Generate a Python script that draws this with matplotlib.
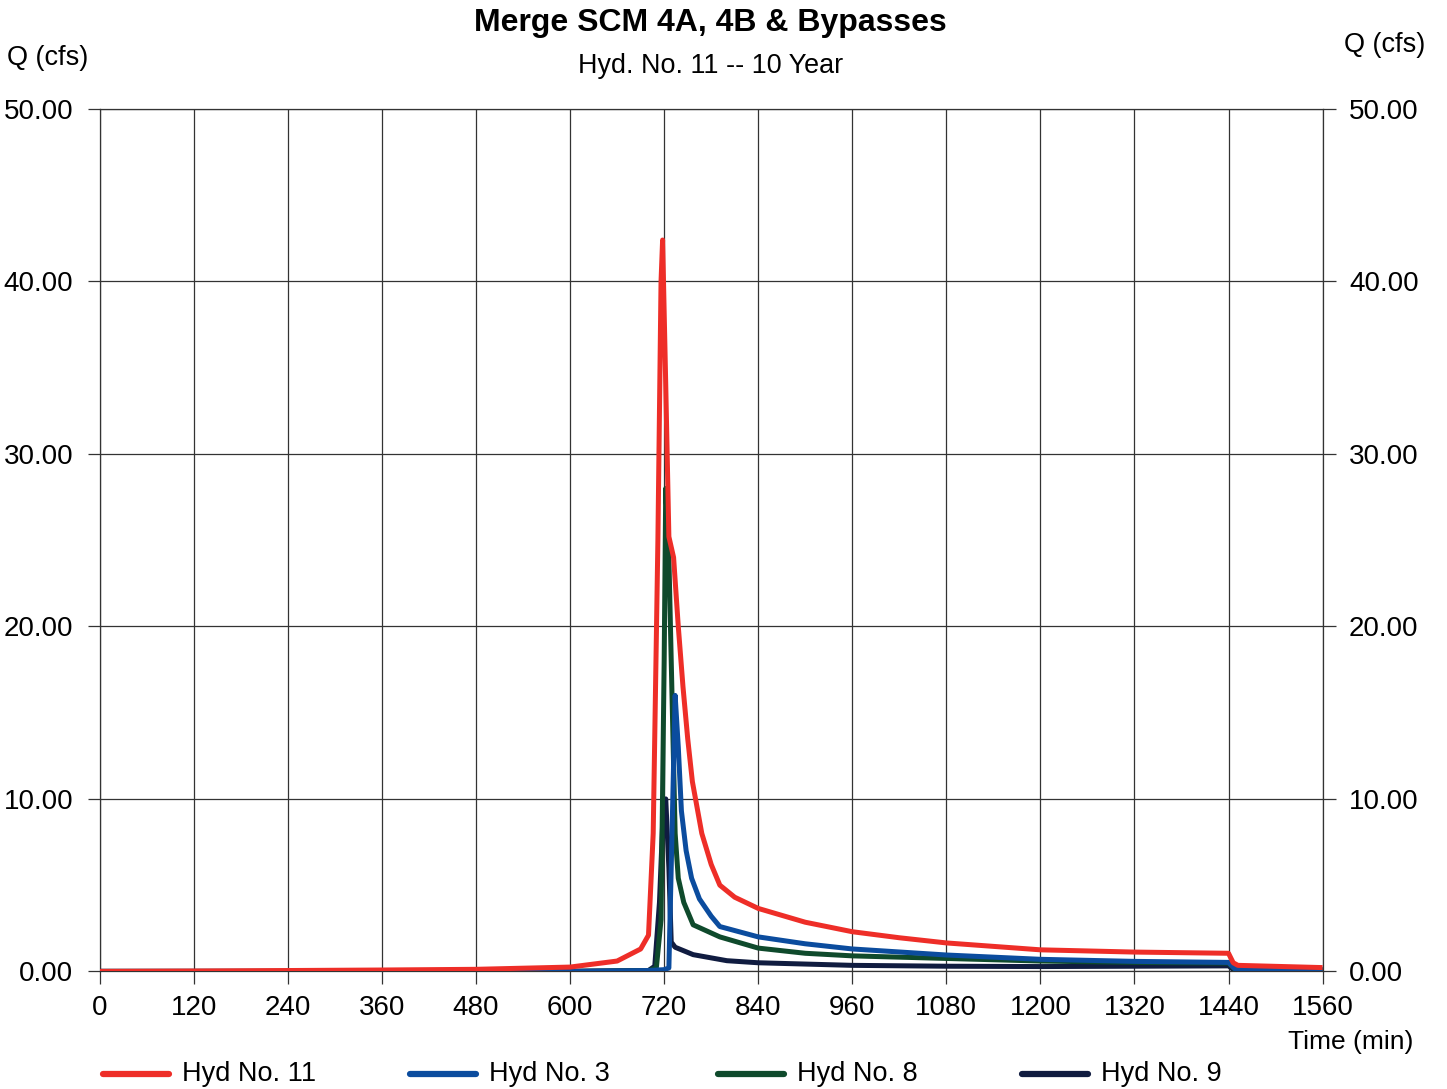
import matplotlib
matplotlib.use("Agg")
import matplotlib.pyplot as plt
from matplotlib.lines import Line2D

plt.rcParams['font.family'] = ['Liberation Sans', 'DejaVu Sans']

# ---- data ----
t11 = [0, 120, 240, 360, 480, 600, 660, 690, 700, 706, 712, 716, 718, 722, 726, 732,
       738, 744, 750, 756, 768, 780, 791, 810, 840, 900, 960, 1020, 1080, 1200, 1320,
       1440, 1446, 1452, 1560]
q11 = [0.0, 0.02, 0.05, 0.08, 0.12, 0.25, 0.6, 1.3, 2.1, 8.0, 25.0, 40.0, 42.4, 34.0,
       25.2, 24.0, 20.0, 16.5, 13.5, 11.0, 8.0, 6.2, 5.0, 4.3, 3.65, 2.85, 2.3, 1.95, 1.65,
       1.25, 1.12, 1.05, 0.5, 0.35, 0.22]

t3 = [0, 600, 700, 720, 726, 730, 734, 738, 742, 748, 755, 765, 780, 791, 840, 900,
      960, 1080, 1200, 1320, 1440, 1448, 1560]
q3 = [0.0, 0.0, 0.05, 0.1, 0.2, 8.0, 16.0, 13.0, 9.3, 7.0, 5.4, 4.2, 3.2, 2.6, 2.0, 1.6,
      1.3, 0.95, 0.7, 0.58, 0.52, 0.15, 0.12]

t8 = [0, 600, 700, 710, 716, 720, 722, 726, 730, 734, 738, 745, 757, 791, 840, 900,
      960, 1080, 1200, 1320, 1440, 1448, 1560]
q8 = [0.0, 0.0, 0.05, 0.2, 3.0, 18.0, 28.0, 24.0, 16.0, 8.0, 5.4, 4.0, 2.7, 2.0, 1.35,
      1.05, 0.9, 0.75, 0.6, 0.52, 0.48, 0.12, 0.1]

t9 = [0, 600, 700, 708, 714, 718, 722, 726, 729, 734, 757, 800, 840, 960, 1080,
      1200, 1320, 1440, 1448, 1560]
q9 = [0.0, 0.0, 0.05, 0.3, 4.0, 8.5, 10.0, 6.0, 1.7, 1.4, 0.97, 0.62, 0.5, 0.35, 0.3,
      0.28, 0.3, 0.32, 0.05, 0.05]

series = [("Hyd No. 11", t11, q11, "#EE2E28"),
          ("Hyd No. 3", t3, q3, "#0B4C9E"),
          ("Hyd No. 8", t8, q8, "#0F4A2C"),
          ("Hyd No. 9", t9, q9, "#101C40")]

xticks = [0, 120, 240, 360, 480, 600, 720, 840, 960, 1080, 1200, 1320, 1440, 1560]
yticks = [0, 10, 20, 30, 40, 50]

fig = plt.figure(figsize=(14.47, 10.89), dpi=100)
ax = fig.add_axes([0.069, 0.108, 0.845, 0.792])

for i in [3, 2, 1, 0]:
    name, t, q, c = series[i]
    ax.plot(t, q, color=c, lw=3.6, solid_capstyle='butt', solid_joinstyle='round',
            zorder=3 + (3 - i))

ax.set_xlim(0, 1560)
ax.set_ylim(0, 50)
ax.set_xticks(xticks)
ax.set_yticks(yticks)
ax.set_xticklabels([str(v) for v in xticks])
ax.set_yticklabels([f"{v:.2f}" for v in yticks])
ax.grid(True, color='#333333', lw=0.9)
for s in ax.spines.values():
    s.set_color('#333333')
    s.set_linewidth(0.9)
ax.tick_params(axis='both', labelsize=20, length=9, width=0.9, color='#333333')
ax.tick_params(axis='x', pad=8)
ax.tick_params(axis='y', pad=10)

ax2 = ax.twinx()
ax2.set_ylim(0, 50)
ax2.set_yticks(yticks)
ax2.set_yticklabels([f"{v:.2f}" for v in yticks])
ax2.tick_params(axis='y', labelsize=20, length=9, width=0.9, color='#333333', pad=10)
for s in ax2.spines.values():
    s.set_visible(False)

fig.text(0.491, 0.979, "Merge SCM 4A, 4B & Bypasses", ha='center', va='center',
         fontsize=23, fontweight='bold')
fig.text(0.491, 0.939, "Hyd. No. 11 -- 10 Year", ha='center', va='center', fontsize=19.4)
fig.text(0.005, 0.947, "Q (cfs)", ha='left', va='center', fontsize=19.5)
fig.text(0.985, 0.959, "Q (cfs)", ha='right', va='center', fontsize=19.5)
fig.text(0.977, 0.043, "Time (min)", ha='right', va='center', fontsize=19)

# legend
leg_x = [0.071, 0.283, 0.496, 0.706]
for (name, t, q, c), lx in zip(series, leg_x):
    fig.add_artist(Line2D([lx, lx + 0.046], [0.014, 0.014], color=c, lw=4.5,
                          transform=fig.transFigure, solid_capstyle='round'))
    fig.text(lx + 0.055, 0.014, name, ha='left', va='center', fontsize=19.5)

fig.savefig("out.png", dpi=100)
